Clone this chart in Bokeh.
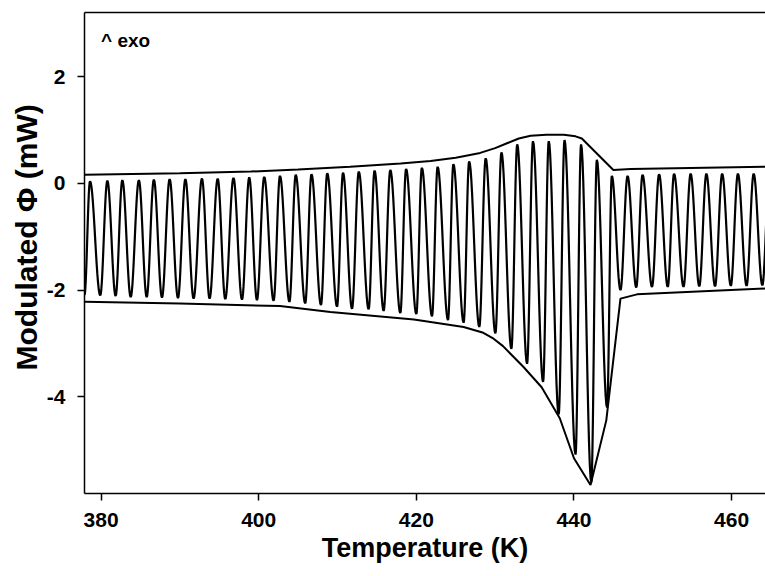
import math
from bokeh.plotting import figure
from bokeh.models import Range1d, FixedTicker, LinearAxis, Label, Title
from bokeh.embed import file_html
from bokeh.resources import INLINE

# ---- data ----
# temperatures (K) of the maxima of each modulation cycle and their heat flow (mW)
peak_T = [378.6, 380.8, 382.7, 384.8, 386.7, 388.7, 390.7, 392.8, 394.8, 396.8,
          398.8, 400.7, 402.7, 404.7, 406.7, 408.7, 410.7, 412.7, 414.7, 416.7,
          418.7, 420.7, 422.7, 424.7, 426.7, 428.8, 430.8, 432.8, 434.8, 436.8,
          438.8, 440.9, 442.9, 444.8, 446.8, 448.7, 450.8, 452.7, 454.8, 456.8,
          458.8, 460.8, 462.8, 464.8]
peak_V = [0.04, 0.05, 0.06, 0.06, 0.07, 0.08, 0.08, 0.09, 0.09, 0.10,
          0.11, 0.12, 0.14, 0.16, 0.17, 0.19, 0.20, 0.22, 0.24, 0.25,
          0.27, 0.29, 0.31, 0.36, 0.41, 0.47, 0.58, 0.73, 0.79, 0.79,
          0.81, 0.73, 0.44, 0.14, 0.14, 0.16, 0.17, 0.18, 0.18, 0.18,
          0.18, 0.18, 0.18, 0.18]
# minima of each cycle
trough_T = [377.9, 379.9, 381.85, 383.76, 385.79, 387.73, 389.76, 391.74, 393.77, 395.76,
            397.88, 399.78, 401.89, 403.9, 405.9, 407.9, 409.94, 411.84, 413.95, 415.85,
            417.97, 420.0, 421.99, 424.02, 426.0, 427.99, 430.03, 432.06, 434.05, 436.08,
            438.06, 440.2, 442.2, 444.2, 445.9, 447.9, 449.9, 451.9, 453.9, 455.9,
            457.9, 459.9, 461.9, 463.9]
trough_V = [-2.09, -2.10, -2.11, -2.13, -2.13, -2.14, -2.15, -2.16, -2.16, -2.17,
            -2.18, -2.19, -2.20, -2.22, -2.25, -2.28, -2.31, -2.35, -2.36, -2.39,
            -2.43, -2.45, -2.49, -2.56, -2.61, -2.69, -2.81, -3.10, -3.38, -3.72,
            -4.33, -5.08, -5.60, -4.20, -2.00, -1.95, -1.94, -1.94, -1.94, -1.93,
            -1.93, -1.92, -1.92, -1.91]

# envelope curves
upper_T = [377.9, 390.0, 399.0, 405.0, 411.6, 418.0, 421.8, 425.0, 428.1, 430.0,
           431.5, 433.0, 434.5, 436.5, 438.7, 440.2, 441.0, 445.0, 447.2, 464.3]
upper_V = [0.16, 0.19, 0.22, 0.26, 0.31, 0.37, 0.42, 0.48, 0.57, 0.66,
           0.75, 0.84, 0.89, 0.91, 0.91, 0.88, 0.84, 0.25, 0.27, 0.31]
lower_T = [377.9, 390.0, 402.7, 409.1, 419.7, 426.0, 428.5, 429.8, 431.0, 433.6, 435.9,
           438.2, 440.0, 442.1, 444.1, 445.9, 448.0, 452.2, 464.3]
lower_V = [-2.22, -2.25, -2.30, -2.41, -2.55, -2.69, -2.80, -2.91, -3.05, -3.44, -3.82,
           -4.40, -5.15, -5.65, -4.44, -2.16, -2.08, -2.05, -1.97]

x_ticks = [380, 400, 420, 440, 460]
y_ticks = [-4, -2, 0, 2]

# ---- modulated trace: alternate minima and maxima, joined by half-cosine arcs ----
ext_T, ext_V = [], []
for i in range(len(trough_T)):
    ext_T.append(trough_T[i]); ext_V.append(trough_V[i])
    if i < len(peak_T):
        ext_T.append(peak_T[i]); ext_V.append(peak_V[i])

wave_x, wave_y = [], []
n = 14
for k in range(len(ext_T) - 1):
    x0, x1, y0, y1 = ext_T[k], ext_T[k + 1], ext_V[k], ext_V[k + 1]
    for j in range(n):
        s = j / n
        wave_x.append(x0 + s * (x1 - x0))
        wave_y.append(y0 + (y1 - y0) * (1 - math.cos(math.pi * s)) / 2)
wave_x.append(ext_T[-1]); wave_y.append(ext_V[-1])

FONT = "Liberation Sans"

p = figure(width=765, height=576, output_backend="svg", toolbar_location=None,
           x_range=Range1d(377.9, 464.3), y_range=Range1d(-5.81, 3.2),
           min_border_left=84, min_border_right=0, min_border_top=12, min_border_bottom=83)
p.outline_line_color = None
p.xgrid.visible = False
p.ygrid.visible = False
p.background_fill_color = "white"
p.border_fill_color = "white"

p.line(wave_x, wave_y, line_color="black", line_width=2.2)
p.line(upper_T, upper_V, line_color="black", line_width=2.0)
p.line(lower_T, lower_V, line_color="black", line_width=2.0)

for ax, ticks in ((p.xaxis[0], x_ticks), (p.yaxis[0], y_ticks)):
    ax.ticker = FixedTicker(ticks=ticks)
    ax.major_label_overrides = {t: str(t) for t in ticks}
    ax.minor_tick_line_color = None
    ax.major_tick_in = 0
    ax.major_tick_out = 7
    ax.major_tick_line_width = 1.5
    ax.axis_line_width = 1.5
    ax.axis_line_color = "black"
    ax.major_tick_line_color = "black"
    ax.major_label_text_font = FONT
    ax.major_label_text_font_style = "bold"
    ax.major_label_text_font_size = "21px"
    ax.major_label_text_color = "black"
p.xaxis[0].major_label_standoff = 12
p.yaxis[0].major_label_standoff = 12

p.xaxis[0].axis_label = "Temperature (K)"
p.xaxis[0].axis_label_text_font = FONT
p.xaxis[0].axis_label_text_font_style = "bold"
p.xaxis[0].axis_label_text_font_size = "27px"
p.xaxis[0].axis_label_text_color = "black"
p.xaxis[0].axis_label_standoff = 3

top = LinearAxis(ticker=FixedTicker(ticks=[]), axis_line_width=1.5, axis_line_color="black",
                 major_tick_line_color=None, minor_tick_line_color=None,
                 major_label_text_font_size="0px")
p.add_layout(top, "above")

p.add_layout(Title(text="Modulated \u03a6 (mW)", align="left", offset=123, standoff=2,
                   text_font=FONT, text_font_style="bold", text_font_size="30px",
                   text_color="black"), "left")
p.add_layout(Label(x=380.0, y=2.68, text="^ exo", text_font=FONT,
                   text_font_style="bold", text_font_size="19px", text_align="left",
                   text_baseline="alphabetic", text_color="black"))

open("out.html", "w").write(file_html(p, INLINE))
